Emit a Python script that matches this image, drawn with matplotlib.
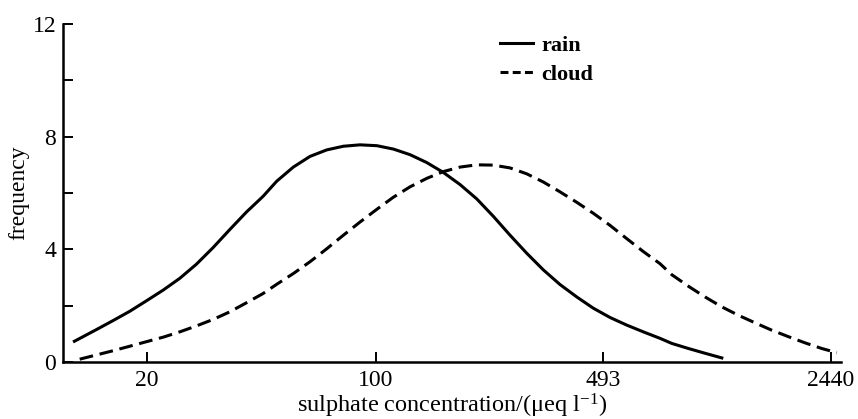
import matplotlib
matplotlib.use("Agg")
import matplotlib.pyplot as plt
from matplotlib.lines import Line2D

# ---- data ----
rain_conc = [11.89, 14.01, 15.75, 17.71, 19.90, 22.38, 25.17, 28.28, 31.80, 35.76,
             40.18, 45.18, 49.76, 55.90, 62.87, 70.70, 79.44, 89.34, 100.5, 112.9,
             127.0, 142.8, 160.4, 180.4, 202.9, 228.0, 256.4, 288.3, 323.9, 364.2,
             409.6, 460.2, 517.6, 582.0, 654.0, 735.4, 798.6, 897.5, 1009, 1147]
rain_freq = [0.71, 1.15, 1.47, 1.80, 2.17, 2.55, 2.97, 3.47, 4.06, 4.70,
             5.32, 5.88, 6.42, 6.92, 7.30, 7.53, 7.66, 7.71, 7.68, 7.56,
             7.36, 7.08, 6.73, 6.30, 5.79, 5.17, 4.50, 3.86, 3.27, 2.75,
             2.31, 1.91, 1.58, 1.31, 1.07, 0.84, 0.66, 0.48, 0.31, 0.13]

cloud_conc = [12.46, 14.01, 15.75, 17.71, 19.90, 22.38, 25.17, 28.28, 31.80, 35.76,
              40.18, 45.18, 49.76, 55.90, 62.87, 70.70, 79.44, 89.34, 100.5, 112.9,
              127.0, 142.8, 160.4, 180.4, 202.9, 228.0, 256.4, 288.3, 323.9, 364.2,
              409.6, 460.2, 517.6, 582.0, 654.0, 735.4, 798.6, 897.5, 1009, 1134,
              1275, 1434, 1612, 1812, 2037, 2291, 2546]
cloud_freq = [0.10, 0.25, 0.40, 0.56, 0.72, 0.88, 1.07, 1.28, 1.51, 1.78,
              2.10, 2.43, 2.76, 3.14, 3.56, 4.02, 4.50, 4.97, 5.42, 5.85,
              6.22, 6.52, 6.76, 6.92, 7.00, 6.99, 6.89, 6.68, 6.39, 6.04,
              5.67, 5.28, 4.85, 4.38, 3.92, 3.49, 3.10, 2.69, 2.31, 1.96,
              1.66, 1.39, 1.13, 0.90, 0.68, 0.48, 0.33]

x_ticks = [20, 100, 493, 2440]
x_ticklabels = ["20", "100", "493", "2440"]
y_major = [0, 4, 8, 12]
y_minor = [2, 6, 10]
series_labels = ["rain", "cloud"]

plt.rcParams["font.family"] = ["Liberation Serif", "DejaVu Serif"]
plt.rcParams["mathtext.default"] = "regular"

fig = plt.figure(figsize=(8.58, 4.19), dpi=100)
W, H = 858, 419
ax = fig.add_axes([63 / W, 57 / H, (841 - 63) / W, 338 / H])

lw = 2.2
ax.plot(rain_conc, rain_freq, color="black", lw=lw, solid_capstyle="butt",
        solid_joinstyle="round")
ax.plot(cloud_conc, cloud_freq, color="black", lw=lw, linestyle=(0, (4.5, 2.2)),
        dash_capstyle="butt", dash_joinstyle="round")

ax.set_xscale("log")
ax.set_xlim(11.08, 2623)
ax.set_ylim(0, 12)

ax.set_xticks(x_ticks)
ax.set_xticklabels(x_ticklabels)
ax.xaxis.set_minor_locator(matplotlib.ticker.NullLocator())
ax.set_yticks(y_major)
ax.set_yticks(y_minor, minor=True)

for s in ["top", "right"]:
    ax.spines[s].set_visible(False)
for s in ["left", "bottom"]:
    ax.spines[s].set_linewidth(1.8)

ax.tick_params(axis="both", which="both", direction="in", length=7.5,
               width=1.4, labelsize=17, color="black")
ax.tick_params(axis="x", pad=6)
ax.tick_params(axis="y", pad=5)

ax.set_ylabel("frequency", fontsize=17, labelpad=2)
ax.set_xlabel("sulphate concentration/(μeq l$^{-1}$)", fontsize=17.5, labelpad=0)

handles = [Line2D([], [], color="black", lw=lw),
           Line2D([], [], color="black", lw=lw, linestyle=(0, (2.6, 1.4)))]
leg = ax.legend(handles, series_labels, loc="upper left",
                bbox_to_anchor=(500 / W, 1 - 35 / H), bbox_transform=fig.transFigure,
                frameon=False, prop={"family": ["Liberation Serif"], "weight": "bold", "size": 16},
                handlelength=1.5, handletextpad=0.35, labelspacing=0.38,
                borderpad=0, borderaxespad=0)

fig.savefig("out.png", dpi=100)
